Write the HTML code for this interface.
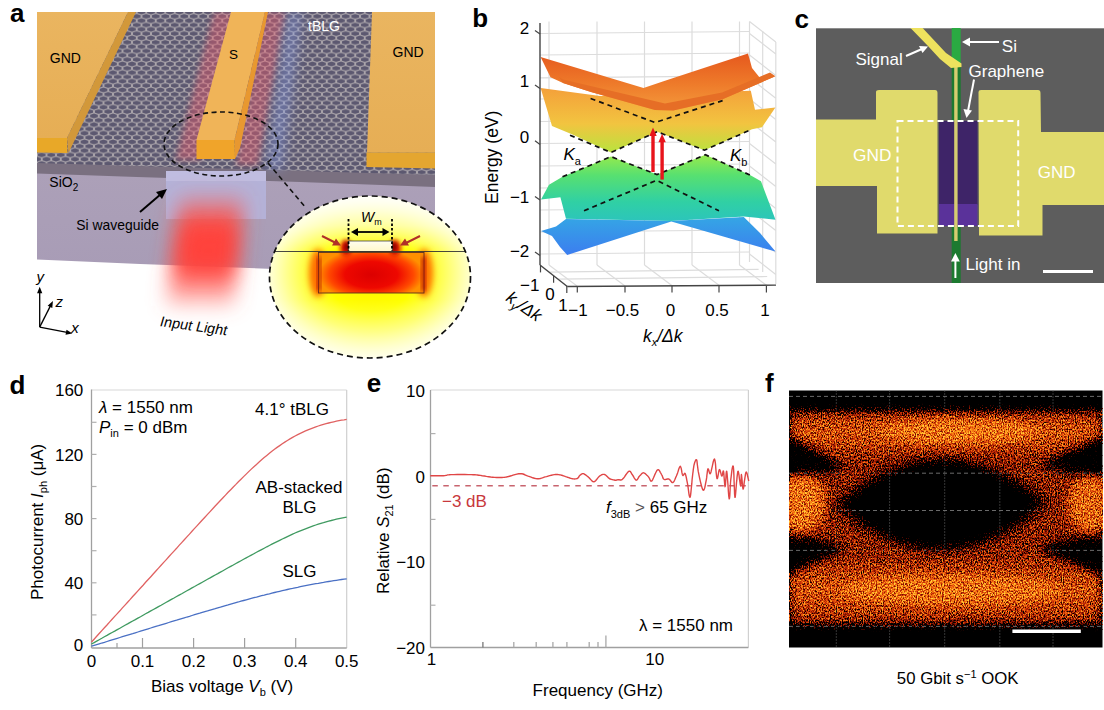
<!DOCTYPE html>
<html><head><meta charset="utf-8"><style>
html,body{margin:0;padding:0;background:#fff;}
svg{display:block;}
</style></head><body>
<svg width="1104" height="710" viewBox="0 0 1104 710" font-family='"Liberation Sans", Arial, sans-serif' fill="#000">
<defs><pattern id="hex" patternUnits="userSpaceOnUse" width="10" height="17.322" patternTransform="translate(37,12) scale(0.95,0.5)"><rect width="10" height="17.322" fill="#5c5870"/><path d="M5.0,0 V2.887 L0,5.774 V11.548 L5.0,14.435 V17.322 M5.0,2.887 L10,5.774 V11.548 L5.0,14.435" fill="none" stroke="#aaa4aa" stroke-width="2"/></pattern><linearGradient id="gold" x1="0" y1="0" x2="0" y2="1"><stop offset="0" stop-color="#eab560"/><stop offset="1" stop-color="#e6ae55"/></linearGradient><linearGradient id="sio2" x1="0" y1="0" x2="0" y2="1"><stop offset="0" stop-color="#aca0b8"/><stop offset="1" stop-color="#a89cb6"/></linearGradient><filter id="blur6" x="-50%" y="-50%" width="200%" height="200%"><feGaussianBlur stdDeviation="6"/></filter><filter id="blur10" x="-50%" y="-50%" width="200%" height="200%"><feGaussianBlur stdDeviation="10"/></filter><filter id="blur3" x="-50%" y="-50%" width="200%" height="200%"><feGaussianBlur stdDeviation="3"/></filter><radialGradient id="field" cx="0.5" cy="0.5" r="0.5"><stop offset="0" stop-color="#e00000"/><stop offset="0.45" stop-color="#f01000"/><stop offset="0.8" stop-color="#ff8000"/><stop offset="1" stop-color="#ffc000"/></radialGradient><radialGradient id="inbg" gradientUnits="userSpaceOnUse" cx="371" cy="273" r="100" gradientTransform="translate(371 273) scale(1 0.85) translate(-371 -273)"><stop offset="0" stop-color="#ffee00"/><stop offset="0.45" stop-color="#ffff00"/><stop offset="0.7" stop-color="#ffff50"/><stop offset="0.9" stop-color="#ffffa8"/><stop offset="1" stop-color="#ffffd0"/></radialGradient><linearGradient id="topfade" x1="0" y1="0" x2="0" y2="1"><stop offset="0" stop-color="#fff" stop-opacity="0.95"/><stop offset="0.55" stop-color="#fff" stop-opacity="0.55"/><stop offset="1" stop-color="#fff" stop-opacity="0"/></linearGradient><linearGradient id="botfade" x1="0" y1="0" x2="0" y2="1"><stop offset="0" stop-color="#fff" stop-opacity="0"/><stop offset="1" stop-color="#fff" stop-opacity="0.6"/></linearGradient><radialGradient id="rectf" cx="0.5" cy="0.55" r="0.5" gradientTransform="translate(0.5 0.55) scale(1 1.3) translate(-0.5 -0.55)"><stop offset="0" stop-color="#dc0000"/><stop offset="0.5" stop-color="#ee0800"/><stop offset="0.8" stop-color="#ff4800"/><stop offset="1" stop-color="#ff9000"/></radialGradient><linearGradient id="metalg" x1="0" y1="0" x2="0" y2="1"><stop offset="0" stop-color="#fffef0"/><stop offset="1" stop-color="#fff8c8"/></linearGradient><filter id="blur2" x="-50%" y="-50%" width="200%" height="200%"><feGaussianBlur stdDeviation="2"/></filter><linearGradient id="beamg" x1="0" y1="0" x2="0" y2="1"><stop offset="0" stop-color="#ff5a50" stop-opacity="0.3"/><stop offset="0.28" stop-color="#ff4a42" stop-opacity="1"/><stop offset="0.6" stop-color="#ff4a42" stop-opacity="1"/><stop offset="0.85" stop-color="#ff5a54" stop-opacity="0.6"/><stop offset="1" stop-color="#ff6a60" stop-opacity="0.3"/></linearGradient><clipPath id="inclip"><ellipse cx="370" cy="277" rx="100.5" ry="81"/></clipPath><clipPath id="aclip"><rect x="37" y="12" width="398" height="320"/></clipPath></defs><path d="M37,170 L435,172 L435,272 L300,270 L140,264 L37,259.5 Z" fill="url(#sio2)"/><path d="M37,160 L435,168 L435,187 L300,182 L137,177 L37,173.5 Z" fill="#7a7080"/><path d="M37,12 L435,12 L435,175 L37,163 Z" fill="url(#hex)"/><g clip-path="url(#aclip)" opacity="0.4"><path d="M214,12 L236,12 L200,160 L176,160 Z" fill="#f05a6a" filter="url(#blur3)"/><path d="M264,12 L286,12 L258,165 L236,165 Z" fill="#f05a6a" filter="url(#blur3)"/><path d="M288,12 L302,12 L282,170 L266,170 Z" fill="#88a0f0" filter="url(#blur6)"/></g><rect x="166" y="171" width="100" height="48" fill="#b4b2d8"/><rect x="166" y="171" width="100" height="10" fill="#c4c2e4" opacity="0.7"/><g clip-path="url(#aclip)"><path d="M180,196 L244,196 L234,306 L166,306 Z" fill="url(#beamg)" filter="url(#blur10)"/><path d="M188,228 L234,228 L230,275 L180,275 Z" fill="#ff3a34" opacity="0.5" filter="url(#blur10)"/></g><path d="M37,12 L128,12 L67,138 L37,138 Z" fill="url(#gold)"/><path d="M128,12 L136,12 L68.5,153 L67,138 Z" fill="#d2983a"/><path d="M37,138 L67,138 L67.5,153 L37,152.5 Z" fill="#e8a828"/><path d="M231,12 L265,12 L234.5,140 L196.5,140 Z" fill="#f0b458"/><path d="M265,12 L268,12 L240,148 L235,159 L234.5,140 Z" fill="#e89830"/><path d="M196.5,140 L234.5,140 L235,159 L196.5,159 Z" fill="#f0a42a"/><path d="M372,12 L435,12 L435,152.5 L367,152.5 Z" fill="url(#gold)"/><path d="M366.5,152.5 L435,152.5 L435,168.5 L366.5,167 Z" fill="#e4a630"/><ellipse cx="221" cy="144" rx="57" ry="32" fill="none" stroke="#111" stroke-width="1.6" stroke-dasharray="5,3.5"/><line x1="268" y1="163" x2="306" y2="208" stroke="#111" stroke-width="1.6" stroke-dasharray="5,3.5"/><g clip-path="url(#inclip)"><rect x="268" y="195" width="205" height="165" fill="url(#inbg)"/><rect x="268" y="195" width="205" height="56" fill="url(#topfade)"/><rect x="268" y="300" width="205" height="60" fill="url(#botfade)"/><ellipse cx="318" cy="273" rx="9" ry="24" fill="#ff7000" filter="url(#blur3)"/><ellipse cx="424" cy="273" rx="9" ry="24" fill="#ff7000" filter="url(#blur3)"/><rect x="318.5" y="252.5" width="105.5" height="40.5" fill="url(#rectf)"/><ellipse cx="346" cy="248" rx="6" ry="8" fill="#e01000" filter="url(#blur2)"/><ellipse cx="395" cy="248" rx="6" ry="8" fill="#e01000" filter="url(#blur2)"/><ellipse cx="347.5" cy="247" rx="2.5" ry="5" fill="#700000" filter="url(#blur2)"/><ellipse cx="393.5" cy="247" rx="2.5" ry="5" fill="#700000" filter="url(#blur2)"/><rect x="348.6" y="241" width="43.7" height="10.5" fill="url(#metalg)"/><rect x="348.6" y="241" width="43.7" height="10.5" fill="none" stroke="#444" stroke-width="0.8"/><rect x="318.5" y="252.5" width="105.5" height="40.5" fill="none" stroke="#5a3020" stroke-width="0.9"/><rect x="317.5" y="257" width="3" height="34" fill="#b01000" filter="url(#blur2)"/><rect x="422" y="257" width="3" height="34" fill="#b01000" filter="url(#blur2)"/><line x1="268" y1="251.5" x2="473" y2="251.5" stroke="#333" stroke-width="0.9"/></g><ellipse cx="370" cy="277" rx="100.5" ry="81" fill="none" stroke="#111" stroke-width="1.7" stroke-dasharray="6,4"/><g stroke="#000" stroke-width="1.8"><line x1="348.5" y1="219" x2="348.5" y2="251" stroke-dasharray="2.5,2"/><line x1="392" y1="219" x2="392" y2="251" stroke-dasharray="2.5,2"/><line x1="355" y1="232" x2="386" y2="232"/></g><path d="M351,232 L358,228 L358,236 Z M389.5,232 L382.5,228 L382.5,236 Z" fill="#000"/><text x="361" y="222" font-size="14" font-style="italic">W<tspan font-size="9" dy="3" font-style="normal">m</tspan></text><g stroke="#b03028" stroke-width="2"><line x1="322" y1="236" x2="336" y2="243"/><line x1="420" y1="236" x2="406" y2="243"/></g><path d="M341,245.5 L332,245.5 L336,238.5 Z M400,245.5 L409,245.5 L405,238.5 Z" fill="#b03028"/><text x="49.8" y="63" font-size="14">GND</text><text x="229" y="59" font-size="13.5">S</text><text x="392.5" y="56.5" font-size="14">GND</text><text x="308" y="30.5" font-size="14" fill="#fff">tBLG</text><text x="49.3" y="187.3" font-size="14">SiO<tspan font-size="10" dy="3.5">2</tspan></text><text x="76.3" y="229.5" font-size="13.9">Si waveguide</text><text transform="translate(159,326) rotate(8) skewX(-8)" font-size="14.5">Input Light</text><line x1="140" y1="212" x2="161" y2="194" stroke="#000" stroke-width="2"/><path d="M167,189 L156,192 L162,199 Z" fill="#000"/><line x1="39.7" y1="327.1" x2="39.70" y2="292.20" stroke="#000" stroke-width="1.3"/><path d="M39.7,286.7 L42.30,293.20 L37.10,293.20 Z" fill="#000"/><line x1="39.7" y1="327.1" x2="50.42" y2="305.91" stroke="#000" stroke-width="1.3"/><path d="M52.9,301 L52.29,307.97 L47.65,305.63 Z" fill="#000"/><line x1="39.7" y1="327.1" x2="67.00" y2="332.44" stroke="#000" stroke-width="1.3"/><path d="M72.4,333.5 L65.52,334.80 L66.52,329.70 Z" fill="#000"/><g font-size="15" font-style="italic"><text x="36.5" y="282.3">y</text><text x="55.6" y="307">z</text><text x="71.3" y="332.6">x</text></g><defs><linearGradient id="gCB2" gradientUnits="userSpaceOnUse" x1="0" y1="55" x2="0" y2="112"><stop offset="0" stop-color="#e65a1e"/><stop offset="0.5" stop-color="#ee7a2a"/><stop offset="1" stop-color="#f49c3c"/></linearGradient><linearGradient id="gCB1" gradientUnits="userSpaceOnUse" x1="0" y1="88" x2="0" y2="153"><stop offset="0" stop-color="#f4a03a"/><stop offset="0.55" stop-color="#f2c440"/><stop offset="1" stop-color="#b8e43e"/></linearGradient><linearGradient id="gVB1" gradientUnits="userSpaceOnUse" x1="0" y1="155" x2="0" y2="222"><stop offset="0" stop-color="#98ea4c"/><stop offset="0.3" stop-color="#58e070"/><stop offset="0.7" stop-color="#30d0a4"/><stop offset="1" stop-color="#2cc4bc"/></linearGradient><linearGradient id="gVB2" gradientUnits="userSpaceOnUse" x1="0" y1="215" x2="0" y2="256"><stop offset="0" stop-color="#34a8e4"/><stop offset="1" stop-color="#3c7cf0"/></linearGradient></defs><g stroke="#dcdcdc" stroke-width="1.2" fill="none"><line x1="549" y1="21.5" x2="549" y2="265"/><line x1="597" y1="21.5" x2="597" y2="265"/><line x1="644.5" y1="21.5" x2="644.5" y2="265"/><line x1="692" y1="21.5" x2="692" y2="265"/><line x1="739.5" y1="21.5" x2="739.5" y2="265"/><line x1="540" y1="33.5" x2="750" y2="31.5"/><line x1="540" y1="55" x2="750" y2="53"/><line x1="540" y1="77.8" x2="750" y2="75.8"/><line x1="540" y1="99" x2="750" y2="97"/><line x1="540" y1="121.5" x2="750" y2="119.5"/><line x1="540" y1="143.5" x2="750" y2="141.5"/><line x1="540" y1="166" x2="750" y2="164"/><line x1="540" y1="188" x2="750" y2="186"/><line x1="540" y1="210" x2="750" y2="208"/><line x1="540" y1="232" x2="750" y2="230"/><line x1="540" y1="254" x2="750" y2="252"/><line x1="749.5" y1="21.5" x2="749.5" y2="262"/><line x1="762.7" y1="31" x2="762.7" y2="272"/><line x1="775.8" y1="42" x2="775.8" y2="284"/><line x1="749.5" y1="21.5" x2="775.8" y2="42.0"/><line x1="749.5" y1="33.5" x2="775.8" y2="54.0"/><line x1="749.5" y1="55" x2="775.8" y2="75.5"/><line x1="749.5" y1="77.8" x2="775.8" y2="98.3"/><line x1="749.5" y1="99" x2="775.8" y2="119.5"/><line x1="749.5" y1="121.5" x2="775.8" y2="142.0"/><line x1="749.5" y1="143.5" x2="775.8" y2="164.0"/><line x1="749.5" y1="166" x2="775.8" y2="186.5"/><line x1="749.5" y1="188" x2="775.8" y2="208.5"/><line x1="749.5" y1="210" x2="775.8" y2="230.5"/><line x1="749.5" y1="232" x2="775.8" y2="252.5"/><line x1="749.5" y1="254" x2="775.8" y2="274.5"/><line x1="548.9" y1="272.1" x2="758.6" y2="269.3"/><line x1="557.8" y1="279.2" x2="767.2" y2="276.5"/><line x1="549" y1="265" x2="577" y2="286"/><line x1="597" y1="265" x2="625" y2="286"/><line x1="644.5" y1="265" x2="672.5" y2="286"/><line x1="692" y1="265" x2="720" y2="286"/><line x1="739.5" y1="265" x2="767.5" y2="286"/></g><path d="M541,199.4 L549,184.7 L562.5,176.8 L611,156.6 L657,174.6 L705.4,154.8 L750,175 L761,181.3 L775.5,219.8 L743.8,216.4 L671.3,221 L566,218.7 L560.4,197.2 Z" fill="url(#gVB1)"/><path d="M541,231.1 L556,226.6 L566,219 L671.3,221 L743.8,217 L760,233 L775.5,251.5 L671.3,221.6 L567.2,255 L560,247 L552,236 Z" fill="url(#gVB2)"/><path d="M540.6,87.9 L600,96 L750.8,90.7 L755,109.7 L775.4,107.6 L762,127.3 L752,129.2 L704.4,150.2 L657.2,131.7 L611,152.5 L572.5,134.6 L552,126 Z" fill="url(#gCB1)"/><path d="M540.6,56.9 L643.5,87.9 L665,80.8 L748,53.4 L752,68 L760.6,78.7 L775.4,76.3 L722.6,99.2 L673.3,110.4 L655,110 L591,92 L563,83 L550.5,77.3 Z" fill="url(#gCB2)"/><path d="M559,77 L563,79.4 L665,103.4 L722,92.5 L770,72.5 L775.4,76.3 L722.6,99.2 L673.3,110.4 L655,110 L591,92 L563,83 Z" fill="#e66e26"/><g stroke="#111" stroke-width="1.7" fill="none" stroke-dasharray="5,4"><polyline points="590.6,98.5 655,122.5 722.6,100.6"/><polyline points="570,135.2 611,152.5 657.2,131.7 704.4,150.2 752,129.2"/><polyline points="562.5,176.8 611,156.6 657,174.6 705.4,154.8 750,175"/><polyline points="584,210.8 656.5,180.3 719,210.8"/></g><g fill="#e8141c"><rect x="651.3" y="135" width="3.4" height="37"/><path d="M653,127.5 L649.3,136 L656.7,136 Z"/><rect x="660.4" y="141" width="3.4" height="38.6"/><path d="M662.1,133.8 L658.4,142.3 L665.8,142.3 Z"/></g><g stroke="#444" stroke-width="1.4" fill="none"><line x1="540" y1="23" x2="540" y2="265"/><line x1="540" y1="265" x2="567.3" y2="286.5"/><line x1="567.3" y1="286.5" x2="776" y2="285.1"/></g><g stroke="#444" stroke-width="1.2" fill="none"><path d="M540,34 L535,30.4"/><path d="M540,88.6 L535,85.0"/><path d="M540,144.4 L535,140.8"/><path d="M540,200 L535,196.4"/><path d="M540,255.5 L535,251.9"/><line x1="577.3" y1="286" x2="577.3" y2="292.5"/><line x1="625" y1="286" x2="625" y2="292.5"/><line x1="672" y1="286" x2="672" y2="292.5"/><line x1="719" y1="286" x2="719" y2="292.5"/><line x1="766.4" y1="286" x2="766.4" y2="292.5"/><line x1="540.5" y1="265.4" x2="540.5" y2="272.4"/><line x1="553.6" y1="275.8" x2="553.6" y2="282.8"/><line x1="566.8" y1="286.1" x2="566.8" y2="293.1"/></g><g font-size="17"><text x="529.3" y="33.9" text-anchor="end">2</text><text x="529.3" y="86.8" text-anchor="end">1</text><text x="529.3" y="142.6" text-anchor="end">0</text><text x="529.3" y="202.8" text-anchor="end">−1</text><text x="529.3" y="256.9" text-anchor="end">−2</text><text x="578" y="316" text-anchor="middle">−1</text><text x="622.5" y="316" text-anchor="middle">−0.5</text><text x="670.6" y="316" text-anchor="middle">0</text><text x="717" y="316" text-anchor="middle">0.5</text><text x="765" y="316" text-anchor="middle">1</text><text x="539.5" y="290.5" text-anchor="end">−1</text><text x="550" y="299.7" text-anchor="middle">0</text><text x="563" y="310.5" text-anchor="middle">1</text></g><text transform="translate(498,204) rotate(-90)" font-size="17.5">Energy (eV)</text><text x="643" y="342" font-size="17.5" font-style="italic">k<tspan font-size="11" dy="4">x</tspan><tspan dy="-4">/Δk</tspan></text><text transform="translate(505,300) rotate(35)" font-size="17" font-style="italic">k<tspan font-size="11" dy="4">y</tspan><tspan dy="-4">/Δk</tspan></text><text x="563.5" y="160" font-size="17" font-style="italic">K<tspan font-size="11" dy="5" font-style="normal">a</tspan></text><text x="730" y="160.5" font-size="17" font-style="italic">K<tspan font-size="11" dy="5" font-style="normal">b</tspan></text><defs><filter id="eyef" filterUnits="userSpaceOnUse" x="789" y="390.5" width="314" height="257" color-interpolation-filters="sRGB"><feTurbulence type="fractalNoise" baseFrequency="0.85 0.55" numOctaves="2" seed="11" result="n"/><feColorMatrix in="n" type="matrix" values="2.3 0 0 0 -0.65  2.3 0 0 0 -0.65  2.3 0 0 0 -0.65  0 0 0 0 1" result="ns"/><feGaussianBlur in="SourceGraphic" stdDeviation="5" result="d"/><feComposite in="d" in2="ns" operator="arithmetic" k1="0" k2="1.1" k3="0.8" k4="-0.84" result="v"/><feComponentTransfer in="v" result="col"><feFuncR type="table" tableValues="0 0.39 0.75 0.94 1 1"/><feFuncG type="table" tableValues="0 0.04 0.16 0.39 0.63 0.82"/><feFuncB type="table" tableValues="0 0 0.02 0.06 0.12 0.24"/></feComponentTransfer><feColorMatrix in="col" type="matrix" values="1 0 0 0 0  0 1 0 0 0  0 0 1 0 0  4 0 0 0 0" result="ca"/><feGaussianBlur in="ca" stdDeviation="0.45"/></filter></defs><rect x="789" y="390.5" width="313.5" height="257" fill="#000"/><g stroke="#6a6a6a" stroke-width="1"><line x1="789" y1="396.4" x2="1102.5" y2="396.4" stroke-dasharray="4,3"/><line x1="789" y1="473.2" x2="1102.5" y2="473.2" stroke-dasharray="4,3"/><line x1="789" y1="510.5" x2="1102.5" y2="510.5" stroke-dasharray="4,3"/><line x1="789" y1="550.4" x2="1102.5" y2="550.4" stroke-dasharray="4,3"/><line x1="789" y1="626.4" x2="1102.5" y2="626.4" stroke-dasharray="4,3"/><line x1="836.3" y1="390.5" x2="836.3" y2="647.4" stroke-dasharray="1,2"/><line x1="889.6" y1="390.5" x2="889.6" y2="647.4" stroke-dasharray="1,2"/><line x1="944.7" y1="390.5" x2="944.7" y2="647.4" stroke-dasharray="1,2"/><line x1="999.8" y1="390.5" x2="999.8" y2="647.4" stroke-dasharray="1,2"/><line x1="1053" y1="390.5" x2="1053" y2="647.4" stroke-dasharray="1,2"/></g><g filter="url(#eyef)"><defs><linearGradient id="railg" x1="0" y1="0" x2="0" y2="1"><stop offset="0" stop-color="#b4b4b4"/><stop offset="0.5" stop-color="#e2e2e2"/><stop offset="1" stop-color="#b4b4b4"/></linearGradient></defs><rect x="789" y="390.5" width="313.5" height="257" fill="#000"/><rect x="789" y="409" width="313.5" height="217" fill="#a8a8a8"/><rect x="789" y="411" width="313.5" height="44" fill="url(#railg)"/><rect x="789" y="559" width="313.5" height="64" fill="url(#railg)"/><path d="M830,505 Q941,410 1052,503 Q941,600 830,505 Z" fill="#000" opacity="0.35"/><path d="M845,505 Q941,425 1037,503 Q941,585 845,505 Z" fill="#000"/><path d="M860,505 Q941,445 1022,503 Q941,565 860,505 Z" fill="#000"/><path d="M789,438 L789,472 L800,474 L845,468 Z" fill="#000" opacity="0.85"/><path d="M789,542 L789,572 L845,548 L800,538 Z" fill="#000" opacity="0.85"/><path d="M1102.5,438 L1102.5,474 L1088,474 L1040,466 Z" fill="#000" opacity="0.85"/><path d="M1102.5,540 L1102.5,574 L1040,548 L1088,538 Z" fill="#000" opacity="0.85"/><ellipse cx="800" cy="503" rx="26" ry="30" fill="#fff" opacity="0.9"/><ellipse cx="1092" cy="503" rx="24" ry="30" fill="#fff" opacity="0.8"/><ellipse cx="960" cy="431" rx="80" ry="13" fill="#fff" opacity="0.9"/><ellipse cx="950" cy="590" rx="110" ry="16" fill="#fff" opacity="0.8"/></g><rect x="1012.4" y="629.5" width="68.4" height="3.5" fill="#fff"/><text x="896.8" y="684.2" font-size="16.8">50 Gbit s<tspan font-size="11" dy="-6.5">−1</tspan><tspan dy="6.5"> OOK</tspan></text><g><line x1="91.5" y1="390" x2="346.7" y2="390" stroke="#d8d8d8" stroke-width="1.2"/><line x1="346.7" y1="390" x2="346.7" y2="648.0" stroke="#cfcfcf" stroke-width="1.2"/><line x1="91.5" y1="389.5" x2="91.5" y2="648.0" stroke="#a0a0a0" stroke-width="1.3"/><line x1="91.5" y1="648.0" x2="346.7" y2="648.0" stroke="#a0a0a0" stroke-width="1.3"/><line x1="117.0" y1="648.0" x2="117.0" y2="643.0" stroke="#a0a0a0" stroke-width="1.2"/><line x1="142.5" y1="648.0" x2="142.5" y2="638.0" stroke="#a0a0a0" stroke-width="1.2"/><line x1="193.6" y1="648.0" x2="193.6" y2="638.0" stroke="#a0a0a0" stroke-width="1.2"/><line x1="244.6" y1="648.0" x2="244.6" y2="638.0" stroke="#a0a0a0" stroke-width="1.2"/><line x1="295.7" y1="648.0" x2="295.7" y2="638.0" stroke="#a0a0a0" stroke-width="1.2"/><line x1="91.5" y1="614.9" x2="96.5" y2="614.9" stroke="#b0b0b0" stroke-width="1.2"/><line x1="91.5" y1="582.8" x2="96.5" y2="582.8" stroke="#b0b0b0" stroke-width="1.2"/><line x1="91.5" y1="550.7" x2="96.5" y2="550.7" stroke="#b0b0b0" stroke-width="1.2"/><line x1="91.5" y1="518.6" x2="96.5" y2="518.6" stroke="#b0b0b0" stroke-width="1.2"/><line x1="91.5" y1="486.5" x2="96.5" y2="486.5" stroke="#b0b0b0" stroke-width="1.2"/><line x1="91.5" y1="454.4" x2="96.5" y2="454.4" stroke="#b0b0b0" stroke-width="1.2"/><line x1="91.5" y1="422.3" x2="96.5" y2="422.3" stroke="#b0b0b0" stroke-width="1.2"/><text x="83.3" y="651.0" text-anchor="end" font-size="17">0</text><text x="83.3" y="589.0" text-anchor="end" font-size="17">40</text><text x="83.3" y="524.8" text-anchor="end" font-size="17">80</text><text x="83.3" y="460.6" text-anchor="end" font-size="17">120</text><text x="83.3" y="396.4" text-anchor="end" font-size="17">160</text><text x="91.5" y="667" text-anchor="middle" font-size="17">0</text><text x="142.5" y="667" text-anchor="middle" font-size="17">0.1</text><text x="193.6" y="667" text-anchor="middle" font-size="17">0.2</text><text x="244.6" y="667" text-anchor="middle" font-size="17">0.3</text><text x="295.7" y="667" text-anchor="middle" font-size="17">0.4</text><text x="346.7" y="667" text-anchor="middle" font-size="17">0.5</text><text x="151" y="692" font-size="17">Bias voltage <tspan font-style="italic">V</tspan><tspan font-size="11" dy="4">b</tspan><tspan dy="-4"> (V)</tspan></text><text transform="translate(43.3,600) rotate(-90)" font-size="17">Photocurrent <tspan font-style="italic">I</tspan><tspan font-size="11" dy="4">ph</tspan><tspan dy="-4"> (μA)</tspan></text><text x="99" y="412.8" font-size="17"><tspan font-style="italic">λ</tspan> = 1550 nm</text><text x="99" y="432.8" font-size="17"><tspan font-style="italic">P</tspan><tspan font-size="11" dy="4">in</tspan><tspan dy="-4"> = 0 dBm</tspan></text><text x="255" y="415.3" font-size="17">4.1° tBLG</text><text x="255.5" y="493.3" font-size="17">AB-stacked</text><text x="282.5" y="513.4" font-size="17">BLG</text><text x="282.5" y="576.7" font-size="17">SLG</text><polyline points="91.5,642.0 94.1,639.2 96.7,636.3 99.2,633.5 101.8,630.6 104.4,627.8 107.0,625.0 109.5,622.1 112.1,619.3 114.7,616.4 117.3,613.6 119.9,610.8 122.4,607.9 125.0,605.1 127.6,602.2 130.2,599.4 132.7,596.5 135.3,593.7 137.9,590.9 140.5,588.0 143.1,585.2 145.6,582.3 148.2,579.5 150.8,576.7 153.4,573.8 155.9,571.0 158.5,568.1 161.1,565.3 163.7,562.4 166.3,559.6 168.8,556.8 171.4,553.9 174.0,551.1 176.6,548.3 179.1,545.4 181.7,542.6 184.3,539.7 186.9,536.9 189.5,534.1 192.0,531.3 194.6,528.4 197.2,525.6 199.8,522.8 202.3,520.0 204.9,517.2 207.5,514.4 210.1,511.6 212.7,508.8 215.2,506.0 217.8,503.3 220.4,500.5 223.0,497.8 225.5,495.1 228.1,492.3 230.7,489.7 233.3,487.0 235.9,484.4 238.4,481.7 241.0,479.2 243.6,476.6 246.2,474.1 248.7,471.6 251.3,469.1 253.9,466.7 256.5,464.4 259.1,462.1 261.6,459.8 264.2,457.6 266.8,455.4 269.4,453.3 271.9,451.3 274.5,449.3 277.1,447.4 279.7,445.6 282.3,443.8 284.8,442.1 287.4,440.5 290.0,438.9 292.6,437.4 295.1,436.0 297.7,434.6 300.3,433.3 302.9,432.1 305.5,430.9 308.0,429.8 310.6,428.8 313.2,427.8 315.8,426.9 318.3,426.0 320.9,425.2 323.5,424.4 326.1,423.7 328.7,423.0 331.2,422.4 333.8,421.8 336.4,421.2 339.0,420.7 341.5,420.2 344.1,419.8 346.7,419.3" fill="none" stroke="#e06262" stroke-width="1.3"/><polyline points="91.5,644.0 94.1,642.6 96.7,641.1 99.2,639.7 101.8,638.3 104.4,636.8 107.0,635.4 109.5,633.9 112.1,632.5 114.7,631.1 117.3,629.6 119.9,628.2 122.4,626.8 125.0,625.3 127.6,623.9 130.2,622.4 132.7,621.0 135.3,619.6 137.9,618.1 140.5,616.7 143.1,615.2 145.6,613.8 148.2,612.4 150.8,610.9 153.4,609.5 155.9,608.1 158.5,606.6 161.1,605.2 163.7,603.7 166.3,602.3 168.8,600.9 171.4,599.4 174.0,598.0 176.6,596.5 179.1,595.1 181.7,593.7 184.3,592.2 186.9,590.8 189.5,589.4 192.0,587.9 194.6,586.5 197.2,585.0 199.8,583.6 202.3,582.2 204.9,580.7 207.5,579.3 210.1,577.9 212.7,576.4 215.2,575.0 217.8,573.6 220.4,572.1 223.0,570.7 225.5,569.3 228.1,567.8 230.7,566.4 233.3,565.0 235.9,563.5 238.4,562.1 241.0,560.7 243.6,559.3 246.2,557.9 248.7,556.5 251.3,555.1 253.9,553.7 256.5,552.3 259.1,550.9 261.6,549.6 264.2,548.2 266.8,546.8 269.4,545.5 271.9,544.2 274.5,542.9 277.1,541.6 279.7,540.3 282.3,539.0 284.8,537.8 287.4,536.6 290.0,535.4 292.6,534.2 295.1,533.0 297.7,531.9 300.3,530.8 302.9,529.8 305.5,528.8 308.0,527.8 310.6,526.8 313.2,525.9 315.8,525.0 318.3,524.1 320.9,523.3 323.5,522.6 326.1,521.8 328.7,521.1 331.2,520.5 333.8,519.8 336.4,519.2 339.0,518.7 341.5,518.2 344.1,517.7 346.7,517.2" fill="none" stroke="#3f9a60" stroke-width="1.3"/><polyline points="91.5,646.2 94.1,645.4 96.7,644.6 99.2,643.8 101.8,643.0 104.4,642.3 107.0,641.5 109.5,640.7 112.1,639.9 114.7,639.1 117.3,638.3 119.9,637.5 122.4,636.7 125.0,635.9 127.6,635.1 130.2,634.3 132.7,633.6 135.3,632.8 137.9,632.0 140.5,631.2 143.1,630.4 145.6,629.6 148.2,628.8 150.8,628.0 153.4,627.2 155.9,626.4 158.5,625.7 161.1,624.9 163.7,624.1 166.3,623.3 168.8,622.5 171.4,621.7 174.0,620.9 176.6,620.2 179.1,619.4 181.7,618.6 184.3,617.8 186.9,617.0 189.5,616.3 192.0,615.5 194.6,614.7 197.2,613.9 199.8,613.2 202.3,612.4 204.9,611.6 207.5,610.9 210.1,610.1 212.7,609.3 215.2,608.6 217.8,607.8 220.4,607.1 223.0,606.3 225.5,605.6 228.1,604.9 230.7,604.1 233.3,603.4 235.9,602.7 238.4,602.0 241.0,601.2 243.6,600.5 246.2,599.8 248.7,599.1 251.3,598.4 253.9,597.7 256.5,597.1 259.1,596.4 261.6,595.7 264.2,595.1 266.8,594.4 269.4,593.8 271.9,593.1 274.5,592.5 277.1,591.9 279.7,591.3 282.3,590.7 284.8,590.1 287.4,589.5 290.0,588.9 292.6,588.4 295.1,587.8 297.7,587.3 300.3,586.7 302.9,586.2 305.5,585.7 308.0,585.2 310.6,584.7 313.2,584.2 315.8,583.7 318.3,583.3 320.9,582.8 323.5,582.4 326.1,581.9 328.7,581.5 331.2,581.1 333.8,580.7 336.4,580.3 339.0,579.9 341.5,579.5 344.1,579.1 346.7,578.8" fill="none" stroke="#4a70c4" stroke-width="1.3"/></g><g><line x1="430.5" y1="390.0" x2="748.4" y2="390.0" stroke="#d8d8d8" stroke-width="1.2"/><line x1="748.4" y1="390.0" x2="748.4" y2="647.5" stroke="#d0d0d0" stroke-width="1.2"/><line x1="430.5" y1="390.0" x2="430.5" y2="647.5" stroke="#a0a0a0" stroke-width="1.3"/><line x1="430.5" y1="647.5" x2="748.4" y2="647.5" stroke="#a0a0a0" stroke-width="1.3"/><line x1="430.5" y1="433.6" x2="435.5" y2="433.6" stroke="#b0b0b0" stroke-width="1.2"/><line x1="430.5" y1="519.4" x2="435.5" y2="519.4" stroke="#b0b0b0" stroke-width="1.2"/><line x1="430.5" y1="605.2" x2="435.5" y2="605.2" stroke="#b0b0b0" stroke-width="1.2"/><line x1="482.9" y1="647.5" x2="482.9" y2="642.0" stroke="#777" stroke-width="1.3"/><line x1="513.8" y1="647.5" x2="513.8" y2="642.0" stroke="#a8a8a8" stroke-width="1.3"/><line x1="536.2" y1="647.5" x2="536.2" y2="642.0" stroke="#a8a8a8" stroke-width="1.3"/><line x1="552.9" y1="647.5" x2="552.9" y2="642.0" stroke="#a8a8a8" stroke-width="1.3"/><line x1="566.9" y1="647.5" x2="566.9" y2="642.0" stroke="#a8a8a8" stroke-width="1.3"/><line x1="589.2" y1="647.5" x2="589.2" y2="642.0" stroke="#a8a8a8" stroke-width="1.3"/><line x1="598" y1="647.5" x2="598" y2="642.0" stroke="#a8a8a8" stroke-width="1.3"/><line x1="605.9" y1="647.5" x2="605.9" y2="635.5" stroke="#a8a8a8" stroke-width="1.3"/><text x="425" y="396.7" text-anchor="end" font-size="17">10</text><text x="425" y="482.5" text-anchor="end" font-size="17">0</text><text x="425" y="568.3" text-anchor="end" font-size="17">−10</text><text x="425" y="654.1" text-anchor="end" font-size="17">−20</text><text x="431.5" y="664.7" text-anchor="middle" font-size="17">1</text><text x="654.8" y="664.7" text-anchor="middle" font-size="17">10</text><text x="532.6" y="695.5" font-size="17">Frequency (GHz)</text><text transform="translate(389.3,594) rotate(-90)" font-size="17">Relative <tspan font-style="italic">S</tspan><tspan font-size="11" dy="4">21</tspan><tspan dy="-4"> (dB)</tspan></text><text x="639" y="630.5" font-size="17">λ = 1550 nm</text><text x="606" y="512.7" font-size="17"><tspan font-style="italic">f</tspan><tspan font-size="11" dy="5">3dB</tspan><tspan dy="-5" fill="#555"> &gt;</tspan><tspan> 65 GHz</tspan></text><text x="442" y="507.3" font-size="17" fill="#c8383c">−3 dB</text><line x1="432.3" y1="485.7" x2="748.4" y2="485.7" stroke="#c8646e" stroke-width="1.5" stroke-dasharray="5.5,5.5"/><polyline points="430.3,475.7 431.8,475.7 433.9,475.7 436.4,475.8 439.0,475.8 441.4,475.8 443.4,475.7 444.9,475.6 445.9,475.4 446.8,475.2 447.8,474.9 449.2,474.8 451.1,474.6 453.8,474.6 457.3,474.5 461.0,474.5 464.8,474.5 468.3,474.6 471.1,474.6 473.2,474.7 474.9,474.8 476.2,474.9 477.4,475.0 478.8,475.2 480.4,475.4 482.2,475.7 484.3,476.0 486.4,476.4 488.6,476.7 490.7,477.0 492.7,477.2 494.6,477.4 496.6,477.5 498.4,477.5 500.3,477.5 501.9,477.5 503.5,477.4 504.7,477.3 505.7,477.1 506.5,477.0 507.4,476.7 508.4,476.5 509.6,476.2 511.2,475.8 513.0,475.2 514.9,474.6 516.9,474.1 518.7,473.7 520.4,473.6 521.8,473.7 523.1,474.0 524.3,474.5 525.5,475.1 526.8,475.7 528.1,476.2 529.6,476.7 531.1,477.2 532.7,477.8 534.3,478.2 535.9,478.6 537.3,478.8 538.7,478.7 540.0,478.5 541.2,478.2 542.4,477.8 543.7,477.3 545.0,476.9 546.5,476.6 548.1,476.1 549.7,475.6 551.4,475.2 552.9,474.9 554.3,474.6 555.5,474.5 556.6,474.5 557.5,474.5 558.5,474.6 559.4,474.8 560.4,474.9 561.5,475.2 562.5,475.5 563.5,475.8 564.5,476.2 565.6,476.6 566.6,476.9 567.6,477.3 568.7,477.6 569.8,478.0 570.8,478.3 571.8,478.6 572.7,478.8 573.6,478.9 574.5,479.0 575.3,478.9 576.0,478.9 576.7,478.7 577.4,478.5 577.9,478.1 578.4,477.6 578.8,477.0 579.1,476.3 579.5,475.7 580.0,475.3 580.5,474.9 581.0,474.4 581.5,474.1 582.0,473.8 582.6,473.6 583.3,473.6 584.0,473.9 584.7,474.3 585.6,474.9 586.4,475.5 587.3,476.2 588.2,476.9 589.1,477.7 590.0,478.8 591.0,479.9 591.9,480.9 592.9,481.6 593.9,481.8 594.8,481.4 595.8,480.5 596.8,479.3 597.7,478.1 598.7,476.9 599.6,476.1 600.4,475.5 601.3,475.0 602.1,474.7 602.9,474.4 603.7,474.4 604.5,474.5 605.3,474.8 606.1,475.5 606.9,476.3 607.7,477.1 608.5,477.9 609.3,478.5 610.3,479.0 611.3,479.3 612.3,479.6 613.3,479.9 614.2,480.0 615.1,480.2 615.7,480.2 616.3,480.2 616.8,480.0 617.3,479.9 617.8,479.8 618.3,479.7 618.9,479.7 619.5,479.8 620.2,480.0 620.8,480.0 621.6,479.9 622.4,479.3 623.4,478.3 624.5,476.8 625.7,475.0 626.9,473.4 628.0,472.0 628.9,471.2 629.6,471.1 630.2,471.3 630.7,472.0 631.2,472.8 631.6,473.6 632.2,474.5 632.8,475.4 633.5,476.5 634.2,477.8 634.9,478.9 635.6,479.8 636.3,480.2 636.8,480.0 637.4,479.5 637.9,478.7 638.4,477.7 638.9,476.8 639.5,476.1 640.1,475.4 640.8,474.7 641.5,473.9 642.1,473.3 642.9,472.9 643.6,472.8 644.4,473.1 645.2,473.6 646.1,474.4 646.9,475.3 647.8,476.1 648.5,476.9 649.1,477.8 649.6,478.8 650.1,479.9 650.5,480.7 651.1,481.2 651.7,481.0 652.6,479.8 653.5,477.8 654.5,475.4 655.6,473.0 656.6,471.0 657.4,469.9 658.2,469.7 659.0,470.2 659.7,471.2 660.3,472.3 661.0,473.5 661.5,474.5 662.0,475.3 662.4,476.3 662.7,477.2 663.0,478.1 663.4,478.8 664.0,479.3 664.7,479.6 665.5,479.5 666.3,479.3 667.2,479.0 668.1,478.9 668.9,479.0 669.6,479.5 670.3,480.4 671.0,481.3 671.6,482.1 672.3,482.6 672.9,482.6 673.6,481.9 674.3,480.8 675.0,479.3 675.7,477.6 676.4,476.0 677.0,474.5 677.6,472.9 678.2,471.1 678.7,469.3 679.3,467.8 679.8,466.7 680.3,466.3 680.7,466.9 681.2,468.4 681.6,470.4 681.9,472.4 682.3,474.2 682.7,475.3 683.1,475.5 683.5,475.1 683.9,474.4 684.4,473.7 684.8,473.3 685.2,473.6 685.6,474.7 686.0,476.2 686.4,478.0 686.8,480.1 687.2,482.2 687.6,484.2 688.0,486.7 688.4,489.7 688.8,492.8 689.2,495.4 689.7,497.1 690.1,497.3 690.5,495.6 690.9,492.4 691.3,488.2 691.8,483.7 692.1,479.5 692.5,476.1 692.8,473.5 693.1,471.3 693.3,469.4 693.6,467.6 693.8,466.1 694.1,464.7 694.5,463.3 694.9,462.0 695.4,460.8 695.8,460.0 696.2,459.6 696.6,459.8 696.9,460.7 697.1,462.3 697.3,464.3 697.6,466.5 697.9,468.9 698.2,471.2 698.7,473.6 699.2,476.2 699.8,479.0 700.4,481.6 701.0,484.0 701.5,485.9 701.9,487.3 702.3,488.6 702.7,489.5 703.1,490.1 703.5,490.2 703.9,489.9 704.3,489.0 704.8,487.5 705.2,485.6 705.6,483.4 706.0,481.3 706.4,479.3 706.7,477.4 706.9,475.2 707.2,473.1 707.4,471.1 707.7,469.6 708.0,468.8 708.3,468.9 708.7,470.0 709.1,471.5 709.5,472.9 709.9,473.8 710.4,473.6 711.0,471.9 711.7,468.9 712.5,465.4 713.2,462.0 713.9,459.7 714.5,459.0 715.0,460.6 715.5,464.0 715.8,468.4 716.2,472.9 716.6,476.5 717.0,478.5 717.4,478.5 717.8,477.1 718.2,474.9 718.6,472.5 719.0,470.5 719.4,469.6 719.8,469.9 720.3,471.0 720.7,472.6 721.1,474.2 721.5,475.5 721.9,476.1 722.2,475.7 722.5,474.5 722.7,473.1 723.0,471.7 723.2,471.0 723.5,471.2 723.8,473.0 724.0,476.0 724.3,479.6 724.6,483.1 724.8,485.7 725.1,486.7 725.4,485.4 725.6,482.2 725.9,478.2 726.1,474.3 726.4,471.6 726.7,471.2 727.1,473.9 727.5,479.0 728.0,485.3 728.4,491.6 728.8,496.5 729.2,498.9 729.5,498.3 729.8,495.7 730.0,491.7 730.2,487.1 730.5,482.8 730.8,479.3 731.2,476.3 731.6,472.9 732.0,469.7 732.5,467.2 732.9,465.9 733.3,466.3 733.6,469.4 733.9,475.1 734.1,481.9 734.4,488.7 734.6,494.3 734.9,497.3 735.2,497.4 735.4,495.7 735.7,492.6 736.0,489.0 736.3,485.4 736.5,482.6 736.8,480.2 737.0,477.6 737.3,475.1 737.6,472.9 737.8,471.6 738.2,471.2 738.5,472.4 739.0,475.1 739.4,478.5 739.9,481.9 740.3,484.6 740.6,485.9 740.8,485.2 741.0,483.0 741.1,480.2 741.2,477.3 741.3,475.2 741.4,474.5 741.6,475.7 741.9,478.3 742.2,481.7 742.5,485.1 742.8,487.8 743.1,489.1 743.3,488.9 743.6,487.6 743.9,485.6 744.1,483.3 744.4,481.1 744.7,479.3 744.9,477.8 745.2,476.1 745.4,474.5 745.7,473.2 746.0,472.3 746.3,472.0 746.7,472.7 747.2,474.1 747.6,476.0 748.1,478.1 748.5,479.8 748.8,481.0" fill="none" stroke="#e04646" stroke-width="1.4" stroke-linejoin="round"/></g><g><rect x="816" y="28.3" width="288" height="254.7" fill="#5d5d5d"/><path d="M816,119.5 L876,119.5 L876,92 Q876,90 879,90 L935,90 Q937.5,90 937.5,93 L937.5,233.5 L877,233.5 L877,186 L816,186 Z" fill="#e0da6c"/><path d="M978.5,92 Q978.5,90 981,90 L1038,90 Q1040.5,90 1040.5,93 L1041,132 L1104,132 L1104,205 L1042.5,205 L1042.5,235.5 L979,235.5 Z" fill="#e0da6c"/><rect x="951.7" y="28" width="9" height="37" fill="#2aaa42"/><rect x="951.7" y="64" width="9" height="219" fill="#1c7a30"/><rect x="939" y="121" width="38.5" height="84" fill="#3e2468"/><rect x="939" y="204" width="38.5" height="22" fill="#5a329a"/><rect x="954.2" y="64" width="3.4" height="177" fill="#d6cc70"/><path d="M910.5,28 L922.6,28 L946,53 L961.5,63.5 L961.5,67 L951,68 L940,59 L928,46 Z" fill="#eee25e"/><rect x="897.5" y="121" width="120.7" height="105" fill="none" stroke="#fff" stroke-width="2" stroke-dasharray="6,4"/><text x="855.5" y="64.5" font-size="17" fill="#fff">Signal</text><text x="1001.8" y="51.8" font-size="17" fill="#fff">Si</text><text x="968.5" y="77" font-size="17" fill="#fff">Graphene</text><text x="853" y="161" font-size="17.3" fill="#fff">GND</text><text x="1037.7" y="177.6" font-size="17" fill="#fff">GND</text><text x="965.6" y="270.2" font-size="17" fill="#fff">Light in</text><rect x="1043" y="270" width="50" height="3" fill="#fff"/><g stroke="#fff" stroke-width="2" fill="#fff"><line x1="906" y1="56" x2="922" y2="49"/><path d="M928,46.5 L919,46 L922.5,53 Z" stroke="none"/><line x1="999" y1="42" x2="968" y2="42"/><path d="M962,42 L970,37.5 L970,46.5 Z" stroke="none"/><line x1="974" y1="79.5" x2="968" y2="111"/><path d="M966.5,118 L963.5,109 L972,110.5 Z" stroke="none"/><line x1="955.4" y1="278" x2="955.4" y2="260"/><path d="M955.4,253 L951,261.5 L959.8,261.5 Z" stroke="none"/></g></g><g font-weight="bold" fill="#000"><text x="10" y="21.7" font-size="26">a</text><text x="472.3" y="27.3" font-size="26">b</text><text x="794.5" y="27.6" font-size="26">c</text><text x="9.5" y="394" font-size="26">d</text><text x="366.8" y="391.6" font-size="26">e</text><text x="765" y="391.8" font-size="26">f</text></g>
</svg></body></html>
